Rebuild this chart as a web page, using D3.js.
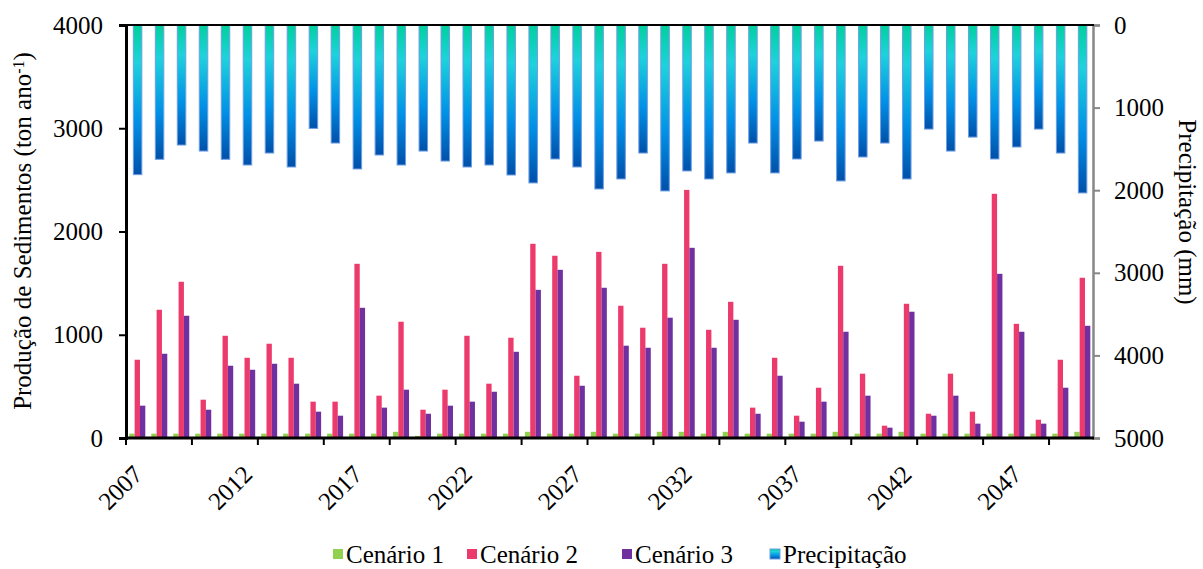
<!DOCTYPE html>
<html>
<head>
<meta charset="utf-8">
<script src="https://cdn.jsdelivr.net/npm/d3@7"></script>
<style>
  body { margin: 0; background: #fff; }
</style>
</head>
<body>
<div id="chart"></div>
<script>
// Data
const years = [2007, 2008, 2009, 2010, 2011, 2012, 2013, 2014, 2015, 2016, 2017,
  2018, 2019, 2020, 2021, 2022, 2023, 2024, 2025, 2026, 2027, 2028, 2029, 2030,
  2031, 2032, 2033, 2034, 2035, 2036, 2037, 2038, 2039, 2040, 2041, 2042, 2043,
  2044, 2045, 2046, 2047, 2048, 2049, 2050];

const cenario1 = [42, 42, 42, 42, 42, 42, 42, 42, 42, 42, 42, 42, 60, 20, 42, 42,
  42, 42, 60, 42, 42, 60, 42, 42, 60, 60, 42, 60, 42, 42, 42, 42, 60, 42, 42, 60,
  42, 42, 42, 42, 42, 42, 42, 60];

const cenario2 = [758, 1242, 1513, 371, 990, 777, 913, 777, 352, 352, 1687, 410,
  1126, 274, 468, 990, 526, 971, 1881, 1765, 603, 1803, 1281, 1068, 1687, 2403,
  1048, 1319, 294, 777, 216, 487, 1668, 623, 119, 1300, 235, 623, 255, 2365, 1106,
  177, 758, 1552];

const cenario3 = [313, 816, 1184, 274, 700, 661, 719, 526, 255, 216, 1261, 294,
  468, 235, 313, 352, 448, 835, 1435, 1629, 506, 1455, 894, 874, 1165, 1842, 874,
  1145, 235, 603, 158, 352, 1029, 410, 100, 1223, 216, 410, 139, 1590, 1029, 139,
  487, 1087];

const precipitacao = [1812, 1626, 1453, 1526, 1626, 1695, 1550, 1719, 1252, 1429,
  1743, 1574, 1695, 1526, 1647, 1719, 1695, 1816, 1912, 1622, 1719, 1985, 1864,
  1550, 2009, 1767, 1864, 1791, 1429, 1791, 1622, 1405, 1888, 1598, 1429, 1864,
  1260, 1526, 1357, 1622, 1477, 1260, 1550, 2033];

const labelYears = [2007, 2012, 2017, 2022, 2027, 2032, 2037, 2042, 2047];
const leftTicks = [0, 1000, 2000, 3000, 4000];
const rightTicks = [0, 1000, 2000, 3000, 4000, 5000];

const series = ["Cenário 1", "Cenário 2", "Cenário 3"];
const seriesValues = [cenario1, cenario2, cenario3];
const colors = ["#92d050", "#ec3a6c", "#7030a0"];

const FONT = "'Liberation Serif', 'Times New Roman', serif";

// Dimensions
const W = 1203, H = 569;
const margin = {top: 25, left: 126};
const width = 1093 - margin.left;
const height = 438 - margin.top;

const svg = d3.select("#chart").append("svg")
  .attr("width", W)
  .attr("height", H)
  .style("font-family", FONT);

// gradient for precipitation bars
const defs = svg.append("defs");
const grad = defs.append("linearGradient")
  .attr("id", "precGrad")
  .attr("x1", 0).attr("y1", 0).attr("x2", 0).attr("y2", 1);
grad.append("stop").attr("offset", "0%").attr("stop-color", "#00d09c");
grad.append("stop").attr("offset", "25%").attr("stop-color", "#1ed2dc");
grad.append("stop").attr("offset", "65%").attr("stop-color", "#0090e6");
grad.append("stop").attr("offset", "100%").attr("stop-color", "#0050aa");

const g = svg.append("g")
  .attr("transform", `translate(${margin.left},${margin.top})`);

// Scales
const x = d3.scaleBand()
  .domain(years)
  .range([0, width])
  .padding(0);

const x1 = d3.scaleBand()
  .domain(series)
  .range([3.3, 19.3]);

const y = d3.scaleLinear().domain([0, 4000]).range([height, 0]);
const y2 = d3.scaleLinear().domain([0, 5000]).range([0, height]);

// Sediment bars
series.forEach((s, i) => {
  g.append("g")
    .selectAll("rect")
    .data(seriesValues[i])
    .enter()
    .append("rect")
      .attr("x", (d, j) => x(years[j]) + x1(s))
      .attr("y", d => y(d))
      .attr("width", x1.bandwidth())
      .attr("height", d => height - y(d))
      .attr("fill", colors[i]);
});

// Precipitation bars hanging from top
const pw = 8.5;
g.append("g")
  .selectAll("rect")
  .data(precipitacao)
  .enter()
  .append("rect")
    .attr("x", (d, j) => x(years[j]) + x.bandwidth() / 2 - pw / 2 + 0.6)
    .attr("y", 0)
    .attr("width", pw)
    .attr("height", d => y2(d))
    .attr("fill", "url(#precGrad)")
    .attr("stroke", "#6f9ee0")
    .attr("stroke-width", 1);

// Right axis (grey)
const rightAxis = g.append("g")
  .attr("transform", `translate(${width},0)`)
  .call(d3.axisRight(y2).tickValues(rightTicks).tickFormat(d3.format("d"))
    .tickSize(7).tickPadding(14));
rightAxis.select(".domain").attr("stroke", "#888").attr("stroke-width", 2.5);
rightAxis.selectAll(".tick line").attr("stroke", "#888").attr("stroke-width", 2);
rightAxis.selectAll("text").style("font-size", "25px").style("font-family", FONT);

// Left axis
const leftAxis = g.append("g")
  .call(d3.axisLeft(y).tickValues(leftTicks).tickFormat(d3.format("d"))
    .tickSize(7).tickPadding(16));
leftAxis.select(".domain").attr("stroke", "#000").attr("stroke-width", 3);
leftAxis.selectAll(".tick line").attr("stroke", "#000").attr("stroke-width", 2);
leftAxis.selectAll("text").style("font-size", "25px").style("font-family", FONT);

// Top border line
g.append("line")
  .attr("x1", 0).attr("x2", width + 1)
  .attr("y1", 0).attr("y2", 0)
  .attr("stroke", "#000").attr("stroke-width", 2);

// Bottom axis: ticks every 3 categories
const bottom = g.append("g").attr("transform", `translate(0,${height})`);
bottom.append("line")
  .attr("x1", -1).attr("x2", width + 1)
  .attr("stroke", "#000").attr("stroke-width", 3);
bottom.selectAll(".btick")
  .data(years.filter((d, i) => i % 3 === 0))
  .enter()
  .append("line")
    .attr("x1", d => x(d)).attr("x2", d => x(d))
    .attr("y1", 0).attr("y2", 7)
    .attr("stroke", "#000").attr("stroke-width", 2);

bottom.selectAll(".xlabel")
  .data(labelYears)
  .enter()
  .append("text")
    .attr("transform", d => `translate(${x(d) + x.bandwidth() / 2 + 7},${38}) rotate(-45)`)
    .attr("text-anchor", "end")
    .style("font-size", "25px")
    .style("font-family", FONT)
    .text(d => d);

// Axis titles
const yTitle = svg.append("text")
  .attr("transform", `translate(31,231) rotate(-90)`)
  .attr("text-anchor", "middle")
  .style("font-size", "25px")
  .style("font-family", FONT);
yTitle.append("tspan").text("Produção de Sedimentos (ton ano");
yTitle.append("tspan").attr("dy", "-0.45em").style("font-size", "16px").text("-1");
yTitle.append("tspan").attr("dy", "0.29em").text(")");

svg.append("text")
  .attr("transform", `translate(1179,212) rotate(90)`)
  .attr("text-anchor", "middle")
  .style("font-size", "25px")
  .style("font-family", FONT)
  .text("Precipitação (mm)");

// Legend
const legendItems = [
  {name: "Cenário 1", fill: colors[0], x: 333},
  {name: "Cenário 2", fill: colors[1], x: 467},
  {name: "Cenário 3", fill: colors[2], x: 622},
  {name: "Precipitação", fill: "url(#precGrad)", x: 770}
];
const li = svg.append("g").selectAll("g")
  .data(legendItems)
  .enter()
  .append("g")
    .attr("transform", d => `translate(${d.x},549)`);
li.append("rect")
  .attr("width", 10).attr("height", 10)
  .attr("fill", d => d.fill)
  .attr("stroke", d => d.name === "Precipitação" ? "#6f9ee0" : "none");
li.append("text")
  .attr("x", 13)
  .attr("y", 14)
  .style("font-size", "25px")
  .style("font-family", FONT)
  .text(d => d.name);
</script>
</body>
</html>
